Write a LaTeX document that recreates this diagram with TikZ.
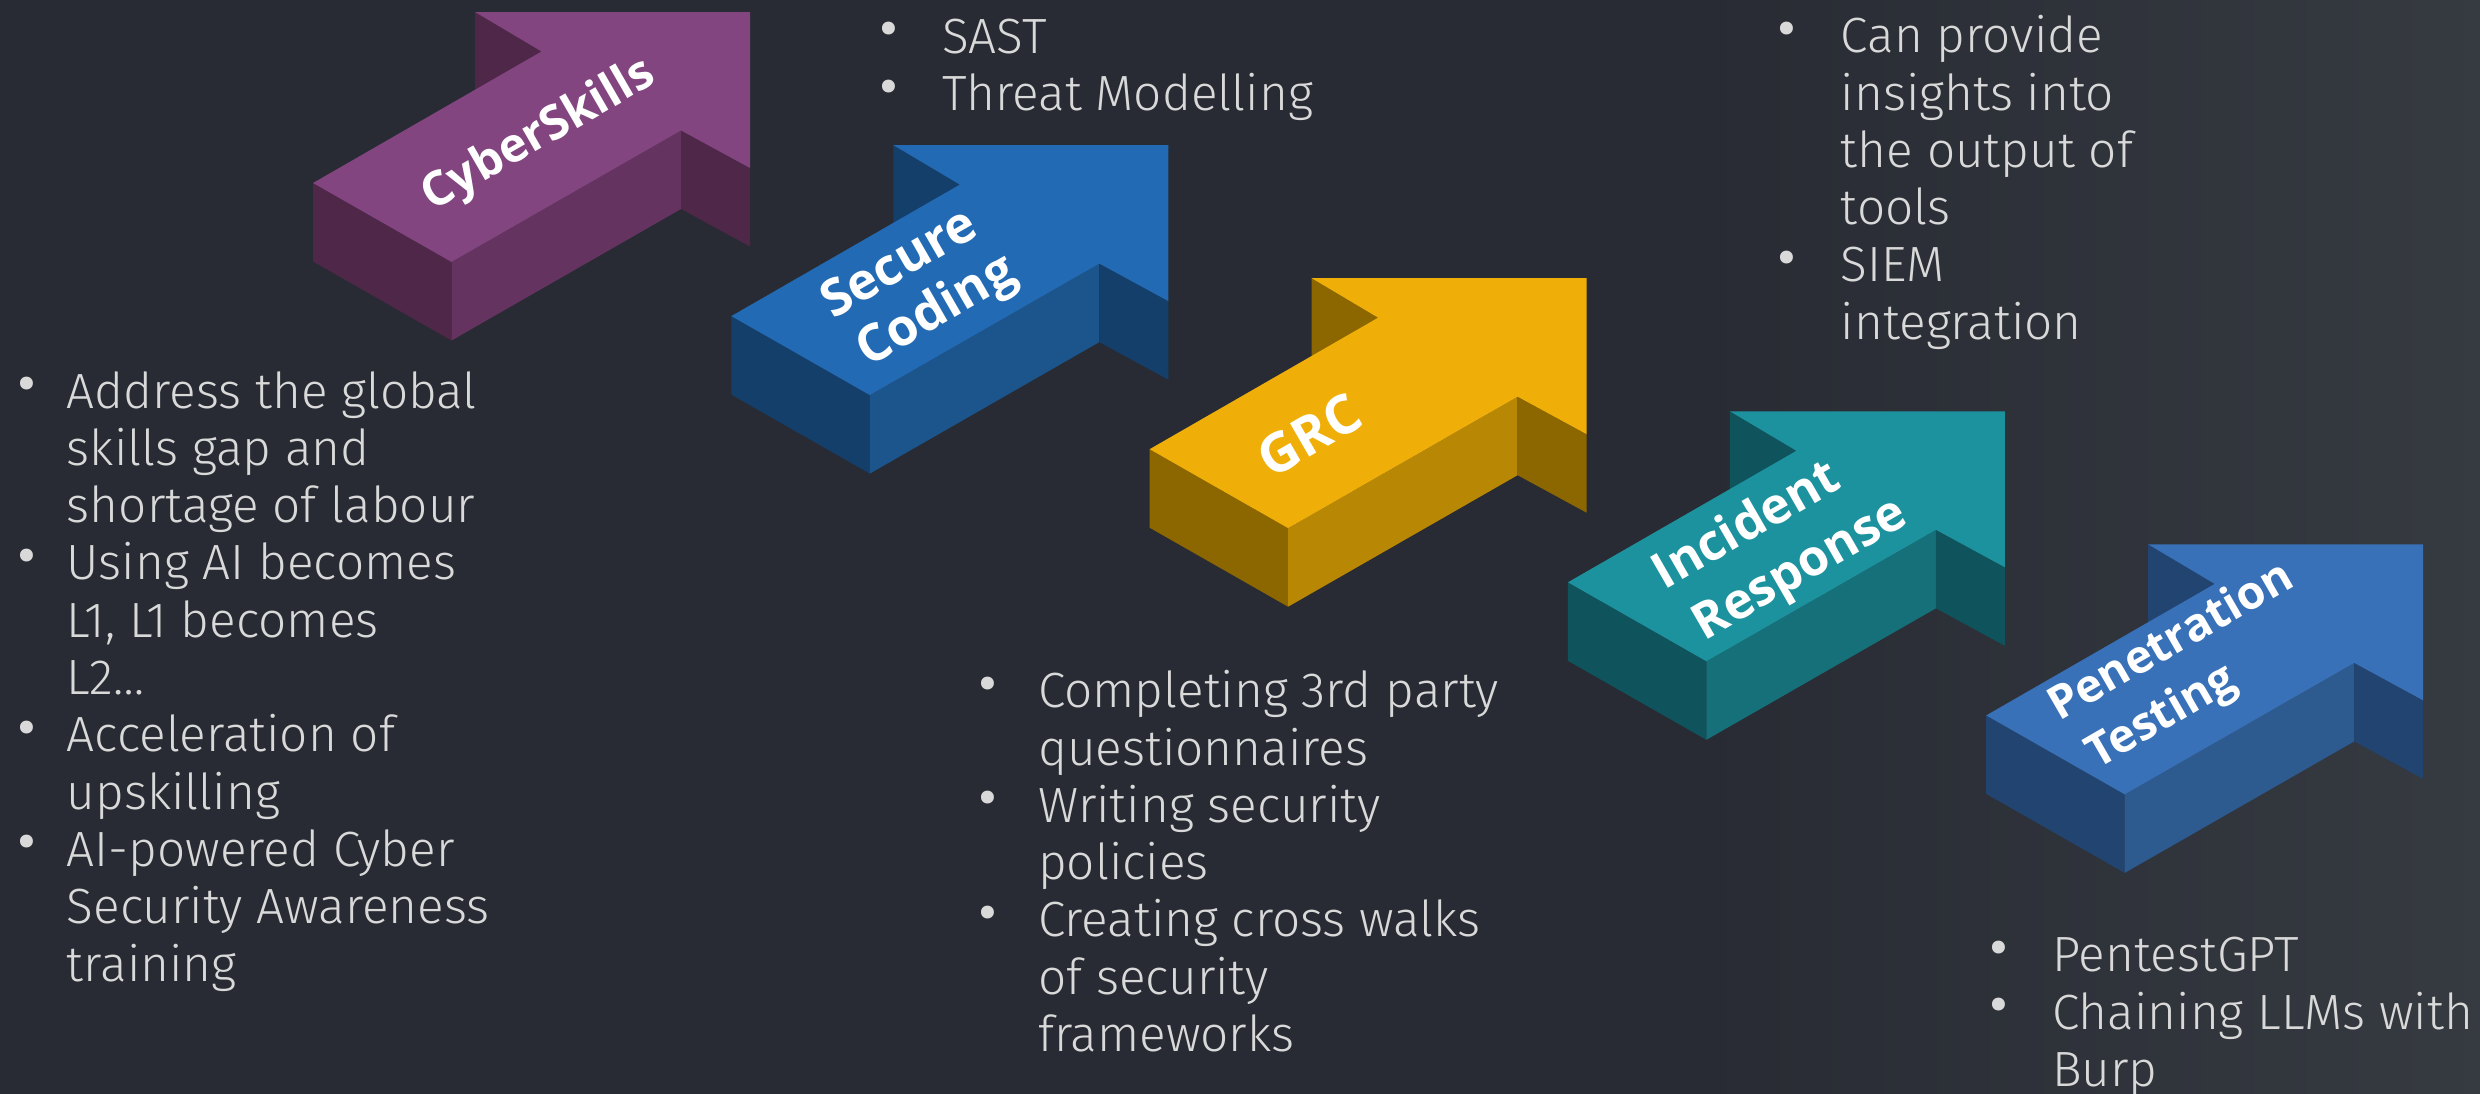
\documentclass[tikz,border=0pt]{standalone}
\usepackage{fontspec}
\setmainfont{Fira Sans Light}
\newfontfamily\lblfont{Open Sans}
\definecolor{bgL}{HTML}{282B33}
\definecolor{bgR}{HTML}{363A41}
\definecolor{txt}{HTML}{D9D9D9}
\definecolor{puT}{HTML}{824580}\definecolor{puF}{HTML}{643360}\definecolor{puS}{HTML}{4E2749}
\definecolor{blT}{HTML}{226BB4}\definecolor{blF}{HTML}{1C548C}\definecolor{blS}{HTML}{143F6B}
\definecolor{yeT}{HTML}{F0AE08}\definecolor{yeF}{HTML}{B88704}\definecolor{yeS}{HTML}{8C6700}
\definecolor{teT}{HTML}{1C929E}\definecolor{teF}{HTML}{167079}\definecolor{teS}{HTML}{0F545C}
\definecolor{bbT}{HTML}{3871B8}\definecolor{bbF}{HTML}{2D5A8F}\definecolor{bbS}{HTML}{224470}
\newcommand{\isoArrow}[4]{%
\begin{scope}[shift={(418.3*#1,133.1*#1)}]
\fill[#4] (475,12) -- (541.5,51.5) -- (541.5,130) -- (475,90.5) -- cycle;
\fill[#4] (313,183) -- (451.5,262) -- (451.5,340.5) -- (313,261.5) -- cycle;
\fill[#3] (451.5,262) -- (681,130.5) -- (681,209) -- (451.5,340.5) -- cycle;
\fill[#4] (681,130.5) -- (750,168) -- (750,246.5) -- (681,209) -- cycle;
\fill[#2] (313,183) -- (541.5,51.5) -- (475,12) -- (750,12) -- (750,168) -- (681,130.5) -- (451.5,262) -- cycle;
\end{scope}}
\newcommand{\bul}[2]{\par\noindent\hangindent=#1\hangafter=1\makebox[0pt]{\raisebox{-5.5pt}{\scalebox{1.75}{\textbullet}}}\hspace*{#1}#2}
\newcommand{\blocktext}[1]{\parbox[t]{760pt}{\fontsize{49.5}{57.3}\selectfont\parindent=0pt #1}}
\newcommand{\lblsize}[2]{\fontsize{#1}{#2}\selectfont}
\tikzset{
  lbl/.style={text=white, font=\lblfont\bfseries, align=left, rotate=30, inner sep=0pt},
  blk/.style={anchor=base west, inner sep=0pt, text=txt},
}
\begin{document}
\begin{tikzpicture}[x=1pt,y=-1pt]
\useasboundingbox (0,0) rectangle (2480,1093);
\fill[bgL] (-10,-10) rectangle (2490,1103);
\shade[left color=bgL, right color=bgR] (1700,-10) rectangle (2490,1103);
\isoArrow{0}{puT}{puF}{puS}
\isoArrow{1}{blT}{blF}{blS}
\isoArrow{2}{yeT}{yeF}{yeS}
\isoArrow{3}{teT}{teF}{teS}
\isoArrow{4}{bbT}{bbF}{bbS}
\node[lbl, font=\lblfont\bfseries\lblsize{47.5}{57}] (cs) at (539,136) {CyberSkills};
\node[lbl, font=\lblfont\bfseries\lblsize{51}{59}] (sc) at (920,289) {Secure\\\hspace*{6pt}Coding};
\node[lbl, font=\lblfont\bfseries\lblsize{54}{62}] (grc) at (1309,435) {GRC};
\node[lbl, font=\lblfont\bfseries\lblsize{50}{64}] (ir) at (1781,545) {Incident\\\hspace*{9pt}Response};
\node[lbl, font=\lblfont\bfseries\lblsize{46}{60}] (pt) at (2187,669) {Penetration\\\hspace*{9pt}Testing};
\node[blk] (left) at (26.7,408) {\blocktext{%
\bul{40pt}{Address the global\newline skills gap and\newline shortage of labour}
\bul{40pt}{Using AI becomes\newline L1, L1 becomes\newline L2…}
\bul{40pt}{Acceleration of\newline upskilling}
\bul{40pt}{AI-powered Cyber\newline Security Awareness\newline training}}};
\node[blk] (sast) at (889,53.3) {\blocktext{%
\bul{53pt}{SAST}
\bul{53pt}{Threat Modelling}}};
\node[blk] (ins) at (1786.7,52.7) {\blocktext{%
\bul{54pt}{Can provide\newline insights into\newline the output of\newline tools}
\bul{54pt}{SIEM\newline integration}}};
\node[blk] (grcl) at (988,707.7) {\blocktext{%
\bul{50pt}{Completing 3rd party\newline questionnaires}
\bul{50pt}{Writing security\newline policies}
\bul{50pt}{Creating cross walks\newline of security\newline frameworks}}};
\node[blk] (pen) at (1999,971.7) {\blocktext{%
\bul{53pt}{PentestGPT}
\bul{53pt}{Chaining LLMs with\newline Burp}}};
\end{tikzpicture}
\end{document}
